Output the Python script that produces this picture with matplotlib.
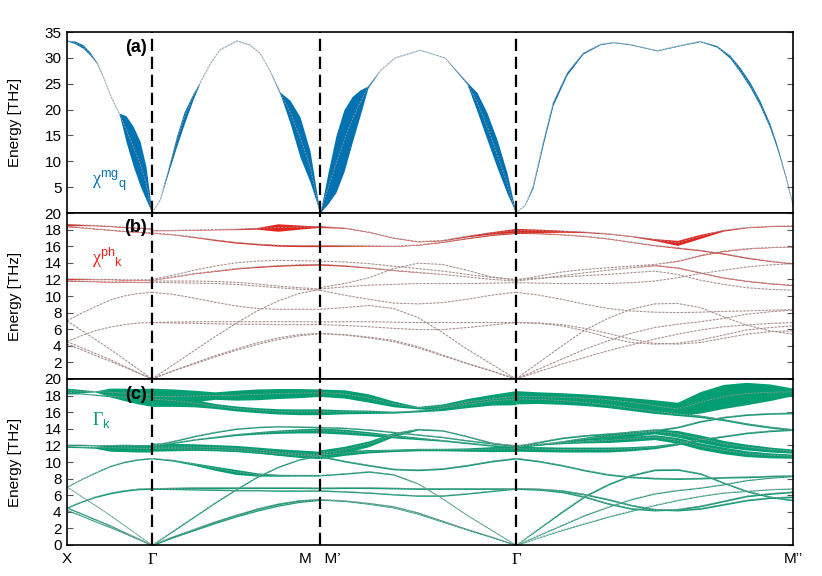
import numpy as np
import matplotlib
matplotlib.use('Agg')
import matplotlib.pyplot as plt

plt.rcParams['font.family'] = ['Liberation Sans', 'DejaVu Sans']
plt.rcParams['mathtext.fontset'] = 'custom'
plt.rcParams['mathtext.rm'] = 'Liberation Sans'
plt.rcParams['mathtext.it'] = 'Liberation Sans:italic'
plt.rcParams['mathtext.bf'] = 'Liberation Sans:bold'

# ---------------- high-symmetry path ----------------
kpt_labels = ['X', 'Γ', 'M   M’', 'Γ', 'M’’']
kpt_pos = [0.0, 0.85, 2.53, 4.49, 7.26]

# ---------------- magnon band (panel a) ----------------
mag_k = [0.00, 0.08, 0.16, 0.23, 0.30, 0.37, 0.44, 0.52, 0.59, 0.66, 0.73, 0.79, 0.85,
         0.93, 1.01, 1.09, 1.17, 1.26, 1.33, 1.43, 1.53, 1.70, 1.83, 1.93, 2.03, 2.13, 2.23, 2.33, 2.43, 2.53,
         2.61, 2.69, 2.77, 2.85, 2.93, 3.01, 3.13, 3.28, 3.53, 3.78, 4.00, 4.10, 4.20, 4.30, 4.40, 4.49,
         4.58, 4.66, 4.76, 4.86, 5.00, 5.16, 5.33, 5.46, 5.63, 5.90, 6.13, 6.33, 6.50, 6.63, 6.73, 6.83,
         6.93, 7.03, 7.10, 7.18, 7.26]
mag_E = [33.3, 33.0, 32.2, 30.8, 29.0, 26.0, 22.5, 19.3, 16.3, 13.0, 9.6, 5.8, 0.0,
         2.5, 8.0, 13.5, 18.3, 22.5, 25.2, 28.8, 31.6, 33.3, 32.5, 30.9, 27.5, 23.2, 19.6, 14.7, 9.0, 0.0,
         4.8, 9.5, 14.0, 18.0, 21.3, 24.4, 27.5, 30.0, 31.5, 30.0, 25.1, 21.5, 16.8, 11.5, 5.8, 0.0,
         1.5, 5.1, 13.5, 21.2, 27.0, 30.9, 32.6, 33.0, 32.6, 31.4, 32.4, 33.2, 32.2, 30.2, 27.7, 24.8,
         21.2, 16.8, 12.8, 7.5, 1.5]
mag_w = [0.05, 0.25, 0.35, 0.3, 0.1, 0.03, 0.03, 0.03, 2.5, 3.8, 4.3, 3.2, 0.0,
         0.03, 0.4, 1.0, 1.2, 0.6, 0.03, 0.02, 0.02, 0.02, 0.02, 0.02, 0.03, 0.2, 2.2, 3.9, 3.0, 0.0,
         3.0, 5.5, 6.0, 4.5, 2.5, 0.2, 0.02, 0.02, 0.02, 0.02, 0.2, 1.8, 2.6, 2.7, 2.0, 0.0,
         0.03, 0.25, 0.4, 0.4, 0.3, 0.15, 0.08, 0.06, 0.06, 0.06, 0.06, 0.08, 0.15, 0.3, 0.45, 0.5,
         0.5, 0.45, 0.35, 0.2, 0.08]

# ---------------- phonon bands (panels b, c) ----------------
# segment X -> Gamma
ph_k1 = [0.00, 0.14, 0.28, 0.43, 0.57, 0.71, 0.85]
ph_E1 = [
    [18.6, 18.55, 18.5, 18.4, 18.3, 18.2, 18.1],
    [18.4, 18.25, 18.1, 17.95, 17.8, 17.7, 17.6],
    [12.05, 12.05, 12.0, 12.0, 11.95, 11.95, 11.95],
    [11.85, 11.8, 11.75, 11.7, 11.7, 11.65, 11.65],
    [7.0, 7.9, 8.7, 9.5, 10.0, 10.3, 10.45],
    [4.5, 5.2, 5.8, 6.25, 6.55, 6.75, 6.8],
    [7.0, 5.9, 4.8, 3.6, 2.4, 1.2, 0.0],
    [4.5, 3.8, 3.1, 2.35, 1.55, 0.78, 0.0],
    [4.2, 3.55, 2.85, 2.15, 1.45, 0.72, 0.0],
]
ph_wc1 = [
    [0.3, 0.2, 0.06, 0.5, 0.6, 0.65, 0.8],
    [0.2, 0.06, 0.06, 0.1, 0.4, 0.7, 0.9],
    [0.08, 0.08, 0.08, 0.1, 0.1, 0.12, 0.15],
    [0.1, 0.08, 0.1, 0.4, 0.45, 0.45, 0.45],
    [0.05, 0.05, 0.06, 0.07, 0.08, 0.08, 0.08],
    [0.08, 0.08, 0.09, 0.1, 0.1, 0.1, 0.1],
    [0.04, 0.04, 0.04, 0.04, 0.04, 0.04, 0.04],
    [0.08, 0.08, 0.08, 0.08, 0.08, 0.08, 0.08],
    [0.06, 0.06, 0.06, 0.06, 0.06, 0.06, 0.06],
]
ph_wb1 = [
    [0.12, 0.07, 0.04, 0.04, 0.04, 0.04, 0.05],
    [0.05, 0.03, 0.03, 0.03, 0.03, 0.03, 0.04],
    [0.07, 0.05, 0.03, 0.03, 0.03, 0.03, 0.03],
    [0.05, 0.04, 0.03, 0.03, 0.03, 0.03, 0.03],
    [0.0, 0.0, 0.0, 0.0, 0.0, 0.0, 0.0],
    [0.0, 0.0, 0.0, 0.0, 0.0, 0.0, 0.0],
    [0.0, 0.0, 0.0, 0.0, 0.0, 0.0, 0.0],
    [0.0, 0.0, 0.0, 0.0, 0.0, 0.0, 0.0],
    [0.0, 0.0, 0.0, 0.0, 0.0, 0.0, 0.0],
]

# segment Gamma -> M
ph_k2 = [0.85, 1.06, 1.27, 1.48, 1.69, 1.90, 2.11, 2.32, 2.53]
ph_E2 = [
    [17.9, 17.9, 17.95, 18.0, 18.05, 18.15, 18.25, 18.3, 18.35],
    [17.6, 17.4, 17.1, 16.75, 16.45, 16.25, 16.1, 16.05, 16.05],
    [12.0, 12.5, 13.1, 13.6, 14.0, 14.2, 14.3, 14.25, 14.2],
    [11.9, 12.3, 12.7, 13.0, 13.3, 13.5, 13.65, 13.75, 13.8],
    [11.8, 11.8, 11.8, 11.75, 11.65, 11.45, 11.2, 11.0, 10.85],
    [11.65, 11.6, 11.55, 11.5, 11.4, 11.2, 11.0, 10.8, 10.7],
    [10.45, 10.2, 9.75, 9.25, 8.8, 8.5, 8.4, 8.4, 8.4],
    [0.0, 1.7, 3.4, 5.1, 6.7, 8.2, 9.4, 10.3, 10.8],
    [6.8, 6.85, 6.9, 6.9, 6.9, 6.9, 6.9, 6.9, 6.87],
    [6.8, 6.75, 6.7, 6.65, 6.6, 6.6, 6.55, 6.55, 6.55],
    [0.0, 1.0, 1.9, 2.8, 3.6, 4.35, 4.95, 5.35, 5.5],
    [0.0, 0.95, 1.8, 2.65, 3.45, 4.15, 4.75, 5.2, 5.45],
]
ph_wc2 = [
    [1.0, 0.9, 0.7, 0.45, 0.6, 0.65, 0.6, 0.55, 0.45],
    [0.9, 0.7, 0.45, 0.3, 0.3, 0.3, 0.32, 0.35, 0.35],
    [0.08, 0.08, 0.08, 0.08, 0.08, 0.08, 0.08, 0.08, 0.08],
    [0.08, 0.08, 0.08, 0.1, 0.12, 0.15, 0.2, 0.25, 0.3],
    [0.5, 0.45, 0.4, 0.35, 0.35, 0.35, 0.4, 0.45, 0.45],
    [0.15, 0.15, 0.15, 0.15, 0.15, 0.15, 0.15, 0.15, 0.15],
    [0.08, 0.1, 0.15, 0.25, 0.3, 0.2, 0.12, 0.1, 0.1],
    [0.06, 0.08, 0.08, 0.08, 0.08, 0.08, 0.08, 0.08, 0.08],
    [0.1, 0.1, 0.1, 0.1, 0.1, 0.1, 0.1, 0.1, 0.1],
    [0.08, 0.08, 0.08, 0.08, 0.08, 0.08, 0.08, 0.08, 0.08],
    [0.08, 0.1, 0.1, 0.1, 0.1, 0.1, 0.1, 0.1, 0.1],
    [0.06, 0.08, 0.08, 0.08, 0.08, 0.08, 0.08, 0.08, 0.08],
]
ph_wb2 = [
    [0.04, 0.03, 0.03, 0.03, 0.05, 0.1, 0.45, 0.25, 0.08],
    [0.03, 0.03, 0.05, 0.07, 0.08, 0.08, 0.1, 0.1, 0.1],
    [0.0, 0.0, 0.0, 0.0, 0.0, 0.0, 0.0, 0.0, 0.0],
    [0.02, 0.02, 0.03, 0.04, 0.05, 0.06, 0.07, 0.07, 0.07],
    [0.0, 0.0, 0.0, 0.0, 0.0, 0.0, 0.0, 0.0, 0.0],
    [0.0, 0.0, 0.0, 0.0, 0.0, 0.0, 0.0, 0.0, 0.0],
    [0.0, 0.0, 0.0, 0.0, 0.0, 0.0, 0.0, 0.0, 0.0],
    [0.0, 0.0, 0.0, 0.0, 0.0, 0.0, 0.0, 0.0, 0.0],
    [0.0, 0.0, 0.0, 0.0, 0.0, 0.0, 0.0, 0.0, 0.0],
    [0.0, 0.0, 0.0, 0.0, 0.0, 0.0, 0.0, 0.0, 0.0],
    [0.0, 0.0, 0.0, 0.0, 0.0, 0.0, 0.0, 0.0, 0.0],
    [0.0, 0.0, 0.0, 0.0, 0.0, 0.0, 0.0, 0.0, 0.0],
]

# segment M' -> Gamma
ph_k3 = [2.53, 2.775, 3.02, 3.265, 3.51, 3.755, 4.00, 4.245, 4.49]
ph_E3 = [
    [18.35, 18.2, 17.7, 17.0, 16.55, 16.7, 17.2, 17.6, 17.9],
    [16.05, 16.05, 16.05, 16.0, 16.15, 16.5, 16.95, 17.35, 17.6],
    [14.2, 14.1, 13.9, 13.6, 13.3, 13.0, 12.6, 12.25, 12.0],
    [13.8, 13.65, 13.4, 13.1, 12.85, 12.6, 12.3, 12.0, 11.8],
    [11.0, 11.5, 12.2, 13.3, 13.95, 13.8, 13.1, 12.3, 11.9],
    [10.85, 11.1, 11.3, 11.4, 11.5, 11.5, 11.5, 11.55, 11.6],
    [10.7, 10.1, 9.6, 9.15, 9.05, 9.2, 9.6, 10.1, 10.45],
    [8.4, 8.6, 8.85, 8.5, 7.4, 5.6, 3.6, 1.8, 0.0],
    [6.87, 6.9, 6.9, 6.85, 6.8, 6.8, 6.8, 6.8, 6.8],
    [6.55, 6.45, 6.3, 6.1, 5.95, 5.95, 6.2, 6.5, 6.8],
    [5.5, 5.35, 5.05, 4.65, 3.9, 2.9, 1.9, 1.0, 0.0],
    [5.45, 5.3, 4.95, 4.5, 3.75, 2.8, 1.85, 0.95, 0.0],
]
ph_wc3 = [
    [0.45, 0.5, 0.5, 0.35, 0.15, 0.3, 0.45, 0.55, 0.7],
    [0.35, 0.25, 0.2, 0.12, 0.12, 0.3, 0.4, 0.5, 0.7],
    [0.08, 0.08, 0.08, 0.08, 0.08, 0.08, 0.08, 0.08, 0.08],
    [0.3, 0.3, 0.25, 0.2, 0.15, 0.1, 0.1, 0.1, 0.1],
    [0.45, 0.4, 0.35, 0.25, 0.1, 0.08, 0.08, 0.1, 0.1],
    [0.45, 0.3, 0.2, 0.15, 0.15, 0.15, 0.2, 0.3, 0.35],
    [0.1, 0.1, 0.1, 0.1, 0.1, 0.1, 0.1, 0.1, 0.1],
    [0.08, 0.08, 0.08, 0.08, 0.06, 0.05, 0.05, 0.05, 0.05],
    [0.1, 0.1, 0.1, 0.1, 0.1, 0.1, 0.1, 0.1, 0.1],
    [0.08, 0.08, 0.08, 0.08, 0.08, 0.08, 0.08, 0.08, 0.08],
    [0.06, 0.06, 0.06, 0.06, 0.06, 0.06, 0.06, 0.06, 0.06],
    [0.05, 0.05, 0.05, 0.05, 0.05, 0.05, 0.05, 0.05, 0.05],
]
ph_wb3 = [
    [0.1, 0.04, 0.03, 0.03, 0.03, 0.04, 0.08, 0.15, 0.25],
    [0.1, 0.07, 0.04, 0.03, 0.03, 0.04, 0.05, 0.06, 0.07],
    [0.0, 0.0, 0.0, 0.0, 0.0, 0.0, 0.0, 0.0, 0.0],
    [0.08, 0.06, 0.04, 0.03, 0.02, 0.0, 0.0, 0.0, 0.0],
    [0.0, 0.0, 0.0, 0.0, 0.0, 0.0, 0.0, 0.0, 0.0],
    [0.0, 0.0, 0.0, 0.0, 0.0, 0.0, 0.0, 0.0, 0.0],
    [0.0, 0.0, 0.0, 0.0, 0.0, 0.0, 0.0, 0.0, 0.0],
    [0.0, 0.0, 0.0, 0.0, 0.0, 0.0, 0.0, 0.0, 0.0],
    [0.0, 0.0, 0.0, 0.0, 0.0, 0.0, 0.0, 0.0, 0.0],
    [0.0, 0.0, 0.0, 0.0, 0.0, 0.0, 0.0, 0.0, 0.0],
    [0.0, 0.0, 0.0, 0.0, 0.0, 0.0, 0.0, 0.0, 0.0],
    [0.0, 0.0, 0.0, 0.0, 0.0, 0.0, 0.0, 0.0, 0.0],
]

# segment Gamma -> M''
ph_k4 = [4.49, 4.72, 4.95, 5.18, 5.41, 5.64, 5.875, 6.105, 6.335, 6.565, 6.795, 7.03, 7.26]
ph_E4 = [
    [17.9, 17.85, 17.8, 17.7, 17.5, 17.2, 16.8, 16.4, 17.2, 17.9, 18.25, 18.4, 18.45],
    [17.6, 17.55, 17.4, 17.2, 16.9, 16.5, 16.1, 15.8, 15.5, 15.1, 14.6, 14.2, 13.9],
    [11.9, 12.4, 12.9, 13.2, 13.4, 13.6, 13.8, 14.2, 14.9, 15.4, 15.7, 15.85, 15.9],
    [11.8, 12.1, 12.45, 12.8, 13.1, 13.4, 13.7, 13.4, 12.8, 12.2, 11.8, 11.5, 11.3],
    [11.6, 11.55, 11.5, 11.5, 11.5, 11.6, 11.8, 12.2, 12.7, 13.1, 13.5, 13.75, 13.9],
    [12.0, 12.15, 12.3, 12.45, 12.6, 12.8, 13.0, 12.6, 11.9, 11.4, 11.0, 10.8, 10.7],
    [10.45, 10.1, 9.6, 9.0, 8.5, 8.2, 8.05, 8.0, 8.05, 8.15, 8.2, 8.3, 8.35],
    [0.0, 2.0, 4.0, 5.9, 7.3, 8.4, 9.05, 9.1, 8.6, 7.5, 6.5, 5.8, 5.4],
    [0.0, 1.2, 2.4, 3.6, 4.6, 5.5, 6.2, 6.6, 6.9, 7.3, 7.8, 8.1, 8.3],
    [0.0, 0.9, 1.8, 2.6, 3.4, 4.1, 4.8, 5.4, 5.9, 6.3, 6.5, 6.7, 6.8],
    [6.8, 6.75, 6.55, 6.1, 5.5, 4.8, 4.3, 4.2, 4.4, 4.9, 5.4, 5.7, 5.8],
    [6.8, 6.7, 6.4, 5.8, 5.0, 4.4, 4.2, 4.3, 4.7, 5.3, 5.9, 6.2, 6.4],
]
ph_wc4 = [
    [0.7, 0.6, 0.55, 0.5, 0.5, 0.55, 0.7, 0.8, 1.3, 1.45, 1.35, 1.0, 0.45],
    [0.6, 0.5, 0.45, 0.4, 0.35, 0.3, 0.25, 0.2, 0.15, 0.12, 0.12, 0.12, 0.12],
    [0.1, 0.1, 0.1, 0.1, 0.1, 0.1, 0.1, 0.1, 0.1, 0.1, 0.1, 0.1, 0.1],
    [0.1, 0.1, 0.12, 0.2, 0.3, 0.35, 0.3, 0.4, 0.45, 0.4, 0.35, 0.3, 0.25],
    [0.3, 0.3, 0.3, 0.3, 0.3, 0.25, 0.2, 0.15, 0.12, 0.1, 0.1, 0.1, 0.1],
    [0.1, 0.1, 0.1, 0.15, 0.25, 0.3, 0.3, 0.35, 0.4, 0.4, 0.35, 0.3, 0.25],
    [0.1, 0.1, 0.1, 0.1, 0.1, 0.1, 0.1, 0.1, 0.1, 0.1, 0.1, 0.1, 0.1],
    [0.05, 0.08, 0.1, 0.1, 0.1, 0.1, 0.1, 0.1, 0.1, 0.1, 0.1, 0.1, 0.1],
    [0.04, 0.05, 0.06, 0.06, 0.06, 0.06, 0.06, 0.06, 0.06, 0.06, 0.06, 0.06, 0.06],
    [0.04, 0.04, 0.05, 0.05, 0.05, 0.05, 0.05, 0.05, 0.05, 0.05, 0.05, 0.05, 0.05],
    [0.1, 0.1, 0.1, 0.1, 0.1, 0.1, 0.1, 0.1, 0.1, 0.1, 0.1, 0.1, 0.1],
    [0.1, 0.1, 0.1, 0.1, 0.1, 0.1, 0.1, 0.1, 0.1, 0.1, 0.1, 0.1, 0.1],
]
ph_wb4 = [
    [0.25, 0.2, 0.12, 0.06, 0.04, 0.04, 0.12, 0.3, 0.25, 0.08, 0.04, 0.04, 0.04],
    [0.07, 0.05, 0.03, 0.03, 0.03, 0.03, 0.04, 0.06, 0.06, 0.06, 0.06, 0.04, 0.04],
    [0.0, 0.0, 0.0, 0.0, 0.0, 0.0, 0.0, 0.03, 0.04, 0.04, 0.03, 0.02, 0.02],
    [0.0, 0.0, 0.0, 0.0, 0.0, 0.0, 0.04, 0.04, 0.04, 0.04, 0.04, 0.04, 0.04],
    [0.0, 0.0, 0.0, 0.0, 0.0, 0.0, 0.0, 0.0, 0.0, 0.0, 0.0, 0.0, 0.0],
    [0.0, 0.0, 0.0, 0.0, 0.0, 0.0, 0.0, 0.0, 0.0, 0.0, 0.0, 0.0, 0.0],
    [0.0, 0.0, 0.0, 0.0, 0.0, 0.0, 0.0, 0.0, 0.0, 0.0, 0.0, 0.0, 0.0],
    [0.0, 0.0, 0.0, 0.0, 0.0, 0.0, 0.0, 0.0, 0.0, 0.0, 0.0, 0.0, 0.0],
    [0.0, 0.0, 0.0, 0.0, 0.0, 0.0, 0.0, 0.0, 0.0, 0.0, 0.0, 0.0, 0.0],
    [0.0, 0.0, 0.0, 0.0, 0.0, 0.0, 0.0, 0.0, 0.0, 0.0, 0.0, 0.0, 0.0],
    [0.0, 0.0, 0.0, 0.0, 0.0, 0.0, 0.0, 0.0, 0.0, 0.0, 0.0, 0.0, 0.0],
    [0.0, 0.0, 0.0, 0.0, 0.0, 0.0, 0.0, 0.0, 0.0, 0.0, 0.0, 0.0, 0.0],
]

segments = [
    (ph_k1, ph_E1, ph_wc1, ph_wb1),
    (ph_k2, ph_E2, ph_wc2, ph_wb2),
    (ph_k3, ph_E3, ph_wc3, ph_wb3),
    (ph_k4, ph_E4, ph_wc4, ph_wb4),
]

# ---------------- styling ----------------
BLUE = '#0072B2'
RED = '#E8231B'
GREEN = '#049E73'
DASHGRAY = '#9b9b9b'

W_PX, H_PX = 822, 576
fig = plt.figure(figsize=(W_PX / 100, H_PX / 100), dpi=100)
left = 67 / W_PX
width = 726 / W_PX
axa = fig.add_axes([left, 1 - 213 / H_PX, width, 181 / H_PX])
axb = fig.add_axes([left, 1 - 379 / H_PX, width, 166 / H_PX])
axc = fig.add_axes([left, 1 - 545 / H_PX, width, 166 / H_PX])


def center_line(ax, k, E, lw=0.7, color=DASHGRAY):
    ax.plot(k, E, color=color, lw=lw, dashes=(2.2, 1.6), zorder=3,
            solid_capstyle='butt', dash_capstyle='butt')


# panel a: magnon
k = np.array(mag_k); E = np.array(mag_E); w = np.array(mag_w)
axa.plot(k, E, color=BLUE, lw=0.5, alpha=0.2, zorder=1)
axa.fill_between(k, E - w, E + w, color=BLUE, lw=0, zorder=2)
center_line(axa, k, E, lw=0.6)

# panels b, c: phonons
for (kk, Es, wcs, wbs) in segments:
    kk = np.array(kk)
    for E, wc, wb in zip(Es, wcs, wbs):
        E = np.array(E); wc = np.array(wc); wb = np.array(wb)
        # panel b
        axb.plot(kk, E, color='#f4c4c1', lw=0.7, alpha=0.6, zorder=1)
        if wb.max() > 0:
            axb.fill_between(kk, E - wb, E + wb, color=RED, lw=0, zorder=2)
        center_line(axb, kk, E, lw=0.7, color='#949090')
        # panel c
        axc.fill_between(kk, E - wc, E + wc, color=GREEN, lw=0, zorder=2)
        center_line(axc, kk, E, lw=0.6)

ylims = [(0, 35), (0, 20), (0, 20)]
yticks = [np.arange(5, 36, 5), np.arange(2, 21, 2), np.arange(0, 21, 2)]
for ax, yl, yt in zip([axa, axb, axc], ylims, yticks):
    ax.set_xlim(kpt_pos[0], kpt_pos[-1])
    ax.set_ylim(*yl)
    ax.set_yticks(yt)
    ax.set_xticks(kpt_pos)
    ax.tick_params(axis='y', direction='in', left=True, right=True, length=4,
                   width=0.8, color='#555555', labelsize=11, pad=4)
    ax.tick_params(axis='x', length=0, labelsize=11, pad=5)
    for xv in kpt_pos[1:-1]:
        ax.axvline(xv, color='black', lw=1.6, linestyle=(0, (5.5, 2.6)), zorder=6)
    for sp in ax.spines.values():
        sp.set_linewidth(1.2)
        sp.set_color('black')
        sp.set_zorder(7)
    ax.set_ylabel('Energy [THz]', fontsize=11)
    ax.yaxis.set_label_coords(-0.062, 0.5)

axa.set_xticklabels([])
axb.set_xticklabels([])
axc.set_xticklabels(kpt_labels)
for lab in axc.get_xticklabels():
    if lab.get_text() == 'Γ':
        lab.set_fontfamily('Liberation Serif')
        lab.set_fontsize(12)

# panel labels
for ax, txt, yy in [(axa, '(a)', 0.915), (axb, '(b)', 0.915), (axc, '(c)', 0.905)]:
    ax.text(0.110, yy, txt, transform=ax.transAxes, ha='right', va='center',
            fontsize=13, fontweight='bold', zorder=8)

axa.text(0.034, 0.18, 'χ$^{\\mathrm{mg}}{}_{\\mathrm{q}}$', transform=axa.transAxes,
         color=BLUE, fontsize=13, ha='left', va='center', fontfamily='Liberation Serif')
axb.text(0.034, 0.73, 'χ$^{\\mathrm{ph}}{}_{\\mathrm{k}}$', transform=axb.transAxes,
         color=RED, fontsize=13, ha='left', va='center', fontfamily='Liberation Serif')
axc.text(0.034, 0.75, 'Γ$_{\\mathrm{k}}$', transform=axc.transAxes,
         color=GREEN, fontsize=13, ha='left', va='center', fontfamily='Liberation Serif')

fig.savefig('out.png', dpi=100)
